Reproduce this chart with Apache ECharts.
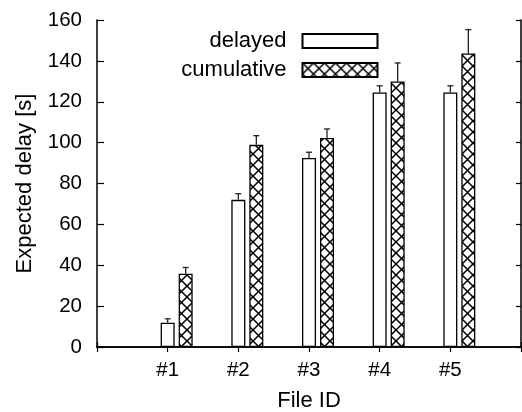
<!DOCTYPE html>
<html>
<head>
<meta charset="utf-8">
<script src="https://cdn.jsdelivr.net/npm/echarts@6/dist/echarts.min.js"></script>
<style>
html,body{margin:0;padding:0;background:#fff;}
#chart{width:522px;height:412px;}
</style>
</head>
<body>
<div id="chart"></div>
<script>
// ---- data ----
var categories = ['#1', '#2', '#3', '#4', '#5'];
var delayed = [11.9, 72, 92.5, 124.5, 124.5];
var delayedErrTop = [13.8, 75, 95.3, 127.8, 127.8];
var cumulative = [35.9, 98.9, 102.3, 129.9, 143.6];
var cumulativeErrTop = [38.9, 103.4, 106.7, 139, 155.3];
var yTicks = [0, 20, 40, 60, 80, 100, 120, 140, 160];

// ---- helpers ----
var axisCats = [''].concat(categories).concat(['']);
function pad(arr) { return [null].concat(arr).concat([null]); }
function errData(vals, tops) {
  return vals.map(function (v, i) { return [i + 1, v, tops[i]]; });
}

var P = 11;
var pc = document.createElement('canvas');
pc.width = P; pc.height = P;
var g = pc.getContext('2d');
g.fillStyle = '#fff'; g.fillRect(0, 0, P, P);
g.strokeStyle = '#000'; g.lineWidth = 1.5;
g.beginPath();
g.moveTo(-1, -1); g.lineTo(P + 1, P + 1);
g.moveTo(-1, P + 1); g.lineTo(P + 1, -1);
g.stroke();

var FONT = 'Liberation Sans';
var BAR_W = 14;
var SPACING = 18;

function errSeries(name, vals, tops, offset) {
  return {
    type: 'custom',
    name: name + '_err',
    xAxisIndex: 0, yAxisIndex: 0,
    z: 5,
    silent: true,
    data: errData(vals, tops),
    renderItem: function (params, api) {
      var x = api.value(0), v = api.value(1), hi = api.value(2);
      var p0 = api.coord([x, v]);
      var p1 = api.coord([x, hi]);
      var cx = p0[0] + offset;
      var st = { stroke: '#222', lineWidth: 1.3 };
      return {
        type: 'group',
        children: [
          { type: 'line', shape: { x1: cx, y1: p0[1], x2: cx, y2: p1[1] }, style: st },
          { type: 'line', shape: { x1: cx - 3, y1: p1[1], x2: cx + 3, y2: p1[1] }, style: st }
        ]
      };
    }
  };
}

function legendFor(name, top) {
  return {
    orient: 'vertical',
    align: 'right',
    right: 138.5,
    top: top,
    itemWidth: 75,
    itemHeight: 14,
    icon: 'rect',
    selectedMode: false,
    data: [name],
    textStyle: { fontFamily: FONT, fontSize: 22, color: '#000', padding: [0, 11, 0, 0] }
  };
}

var chart = echarts.init(document.getElementById('chart'), null, { renderer: 'canvas' });
var axisLine = { show: true, lineStyle: { color: '#000', width: 1.5 } };
chart.setOption({
  animation: false,
  backgroundColor: '#fff',
  textStyle: { fontFamily: FONT },
  grid: { left: 97, right: 1, top: 20, bottom: 65, containLabel: false, outerBoundsMode: 'none' },
  legend: [legendFor('delayed', 25), legendFor('cumulative', 54)],
  xAxis: [{
    type: 'category',
    data: axisCats,
    boundaryGap: false,
    position: 'bottom',
    axisLine: axisLine,
    axisTick: { show: true, inside: true, length: 5, lineStyle: { color: '#000', width: 1.2 } },
    axisLabel: { fontFamily: FONT, fontSize: 20.5, color: '#000', margin: 13 },
    splitLine: { show: false },
    name: 'File ID',
    nameLocation: 'middle',
    nameGap: 43,
    nameTextStyle: { fontFamily: FONT, fontSize: 22, color: '#000' }
  }, {
    type: 'category',
    data: axisCats,
    boundaryGap: false,
    position: 'top',
    axisLine: axisLine,
    axisTick: { show: true, inside: true, length: 5, lineStyle: { color: '#000', width: 1.2 } },
    axisLabel: { show: false },
    splitLine: { show: false }
  }],
  yAxis: [{
    type: 'value',
    min: yTicks[0], max: yTicks[yTicks.length - 1], interval: 20,
    position: 'left',
    axisLine: axisLine,
    axisTick: { show: true, inside: true, length: 7, lineStyle: { color: '#000', width: 1.2 } },
    axisLabel: { fontFamily: FONT, fontSize: 20.5, color: '#000', margin: 15 },
    splitLine: { show: false },
    name: 'Expected delay [s]',
    nameLocation: 'middle',
    nameGap: 61,
    nameTextStyle: { fontFamily: FONT, fontSize: 22, color: '#000' }
  }, {
    type: 'value',
    min: yTicks[0], max: yTicks[yTicks.length - 1], interval: 20,
    position: 'right',
    axisLine: axisLine,
    axisTick: { show: true, inside: true, length: 5, lineStyle: { color: '#000', width: 1.2 } },
    axisLabel: { show: false },
    splitLine: { show: false }
  }],
  series: [{
    type: 'bar',
    name: 'spacer',
    data: pad(categories.map(function () { return null; })),
    barWidth: BAR_W,
    barGap: ((SPACING - BAR_W) / BAR_W * 100) + '%',
    silent: true
  }, {
    type: 'bar',
    name: 'delayed',
    data: pad(delayed),
    barWidth: BAR_W,
    barGap: ((SPACING - BAR_W) / BAR_W * 100) + '%',
    itemStyle: { color: '#fff', borderColor: '#000', borderWidth: 1.3 },
    z: 3
  }, {
    type: 'bar',
    name: 'cumulative',
    data: pad(cumulative),
    barWidth: BAR_W,
    barGap: ((SPACING - BAR_W) / BAR_W * 100) + '%',
    itemStyle: { color: { image: pc, repeat: 'repeat' }, borderColor: '#000', borderWidth: 1.3 },
    z: 3
  },
  errSeries('delayed', delayed, delayedErrTop, 0),
  errSeries('cumulative', cumulative, cumulativeErrTop, SPACING)
  ]
});
</script>
</body>
</html>
